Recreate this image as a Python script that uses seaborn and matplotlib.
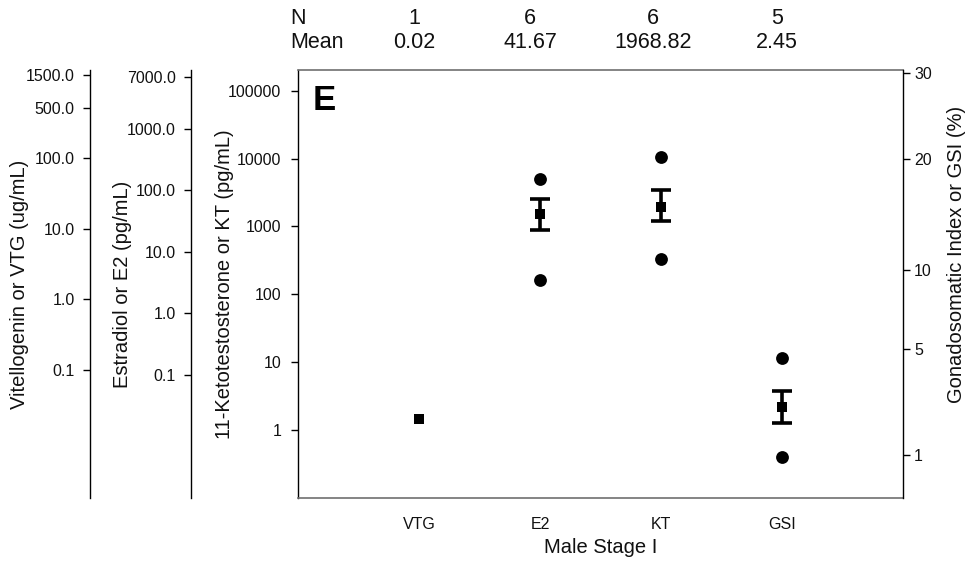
import numpy as np
import pandas as pd
import matplotlib
matplotlib.use("Agg")
import matplotlib.pyplot as plt
from matplotlib.ticker import FixedLocator, FixedFormatter, NullLocator
import seaborn as sns

# Male stage I summary: one measurement per column, each on its own y scale
categories = ["VTG", "E2", "KT", "GSI"]
n_counts = [1, 6, 6, 5]
means = [0.02, 41.67, 1968.82, 2.45]
se_lower = [np.nan, 23.1, 1185.0, 1.90]
se_upper = [np.nan, 73.8, 3478.0, 3.07]
point_low = [np.nan, 3.47, 330.0, 0.954]
point_high = [np.nan, 156.0, 10560.0, 4.55]

vtg_ticks = [0.1, 1, 10, 100, 500, 1500]
vtg_labels = ["0.1", "1.0", "10.0", "100.0", "500.0", "1500.0"]
e2_ticks = [0.1, 1, 10, 100, 1000, 7000]
e2_labels = ["0.1", "1.0", "10.0", "100.0", "1000.0", "7000.0"]
kt_ticks = [1, 10, 100, 1000, 10000, 100000]
kt_labels = ["1", "10", "100", "1000", "10000", "100000"]
gsi_ticks = [1, 5, 10, 20, 30]
gsi_labels = ["1", "5", "10", "20", "30"]

sns.set_theme(style="white")
plt.rcParams["font.family"] = ["Liberation Sans", "DejaVu Sans"]
plt.rcParams["axes.linewidth"] = 1.0

TICK_FS = 11.5
LABEL_FS = 14.5

W, H = 973, 569
fig = plt.figure(figsize=(W / 100, H / 100), dpi=100)
L, R, T, B = 298, 903, 70, 498
ax = fig.add_axes([L / W, 1 - B / H, (R - L) / W, (B - T) / H])
ax_vtg = ax.twinx()
ax_e2 = ax.twinx()
ax_gsi = ax.twinx()

df = pd.DataFrame({
    "category": categories,
    "pos": np.arange(len(categories)),
    "mean": means,
    "lo": se_lower,
    "hi": se_upper,
})
pts = pd.DataFrame({
    "category": categories * 2,
    "pos": list(np.arange(len(categories))) * 2,
    "value": point_low + point_high,
}).dropna()

axis_for = {"VTG": ax_vtg, "E2": ax_e2, "KT": ax, "GSI": ax_gsi}

# scales first so seaborn draws into the final coordinate systems
ax.set_yscale("log")
ax_vtg.set_yscale("log")
ax_e2.set_yscale("log")
ax_gsi.set_yscale("function",
                  functions=(lambda v: np.sqrt(np.clip(v, 0, None)),
                             lambda v: np.square(v)))

for cat, a in axis_for.items():
    row = df[df["category"] == cat]
    p = pts[pts["category"] == cat]
    if len(p):
        sns.scatterplot(data=p, x="pos", y="value", ax=a, marker="o", s=85,
                        color="black", linewidth=0, legend=False, zorder=3)
    r = row.iloc[0]
    if not np.isnan(r["lo"]):
        a.errorbar([r["pos"]], [r["mean"]],
                   yerr=[[r["mean"] - r["lo"]], [r["hi"] - r["mean"]]],
                   fmt="none", ecolor="black", elinewidth=2.6,
                   capsize=7.5, capthick=2.6, zorder=3)
    sns.scatterplot(data=row, x="pos", y="mean", ax=a, marker="s", s=60,
                    color="black", linewidth=0, legend=False, zorder=4)

# limits
ax.set_xlim(-1, 4)
ax.set_ylim(0.1, 2.02e5)
ax_vtg.set_ylim(0.00155, 1750)
ax_e2.set_ylim(0.001, 9100)
ax_gsi.set_ylim(0.2465, 30.35)

def fixed_ticks(a, ticks, labels):
    a.yaxis.set_major_locator(FixedLocator(ticks))
    a.yaxis.set_major_formatter(FixedFormatter(labels))
    a.yaxis.set_minor_locator(NullLocator())

fixed_ticks(ax, kt_ticks, kt_labels)
fixed_ticks(ax_vtg, vtg_ticks, vtg_labels)
fixed_ticks(ax_e2, e2_ticks, e2_labels)
fixed_ticks(ax_gsi, gsi_ticks, gsi_labels)

ax.set_xticks(df["pos"])
ax.set_xticklabels(categories)

tick_kw = dict(direction="out", length=5, width=1, colors="black",
               labelsize=TICK_FS, labelcolor="#111111")
ax.tick_params(axis="x", pad=9, **tick_kw)
ax.tick_params(axis="y", which="major", left=True, right=False, pad=7, **tick_kw)
ax_gsi.tick_params(axis="y", which="major", right=True, pad=3, **tick_kw)

# main frame
ax.spines["left"].set_color("black")
ax.spines["right"].set_visible(False)
for s in ["top", "bottom"]:
    ax.spines[s].set_color("#6f6f6f")
    ax.spines[s].set_linewidth(1.2)

# detached left axes for VTG and E2
for a, xpos in [(ax_vtg, (90 - L) / (R - L)), (ax_e2, (191 - L) / (R - L))]:
    a.yaxis.tick_left()
    a.yaxis.set_label_position("left")
    a.spines["left"].set_position(("axes", xpos))
    a.spines["left"].set_visible(True)
    a.spines["left"].set_color("black")
    for s in ["right", "top", "bottom"]:
        a.spines[s].set_visible(False)
    a.tick_params(axis="y", which="major", left=True, right=False, pad=6, **tick_kw)
    a.set_xlabel("")

for s in ["left", "top", "bottom"]:
    ax_gsi.spines[s].set_visible(False)
ax_gsi.spines["right"].set_color("black")
ax_gsi.set_xlabel("")

# axis titles
ax.set_xlabel("Male Stage I", fontsize=LABEL_FS, labelpad=4, color="#111111")
ax.set_ylabel("11-Ketotestosterone or KT (pg/mL)", fontsize=LABEL_FS, color="#111111")
ax.yaxis.set_label_coords((233.5 - L) / (R - L), 0.5)
ax_vtg.set_ylabel("Vitellogenin or VTG (ug/mL)", fontsize=LABEL_FS, color="#111111")
ax_vtg.yaxis.set_label_coords((29 - L) / (R - L), 0.5)
ax_e2.set_ylabel("Estradiol or E2 (pg/mL)", fontsize=LABEL_FS, color="#111111")
ax_e2.yaxis.set_label_coords((132 - L) / (R - L), 0.5)
ax_gsi.set_ylabel("Gonadosomatic Index or GSI (%)", fontsize=LABEL_FS, color="#111111")
ax_gsi.yaxis.set_label_coords((947 - L) / (R - L), (B - 254) / (B - T))

# panel letter
ax.text((313 - L) / (R - L), (B - 84) / (B - T), "E", transform=ax.transAxes,
        fontsize=25, fontweight="bold", ha="left", va="top", color="black")

# sample size / mean table above the panel
col_x = [414, 530, 653, 777]
fig.text(290 / W, 1 - 19 / H, "N", fontsize=15.5, ha="left", va="center", color="#111111")
fig.text(290 / W, 1 - 43 / H, "Mean", fontsize=15.5, ha="left", va="center", color="#111111")
for cx, n, m in zip(col_x, n_counts, means):
    fig.text(cx / W, 1 - 19 / H, f"{n}", fontsize=15.5, ha="center", va="center", color="#111111")
    fig.text(cx / W, 1 - 43 / H, f"{m:.2f}", fontsize=15.5, ha="center", va="center", color="#111111")

fig.savefig("out.png", dpi=100, facecolor="white")
